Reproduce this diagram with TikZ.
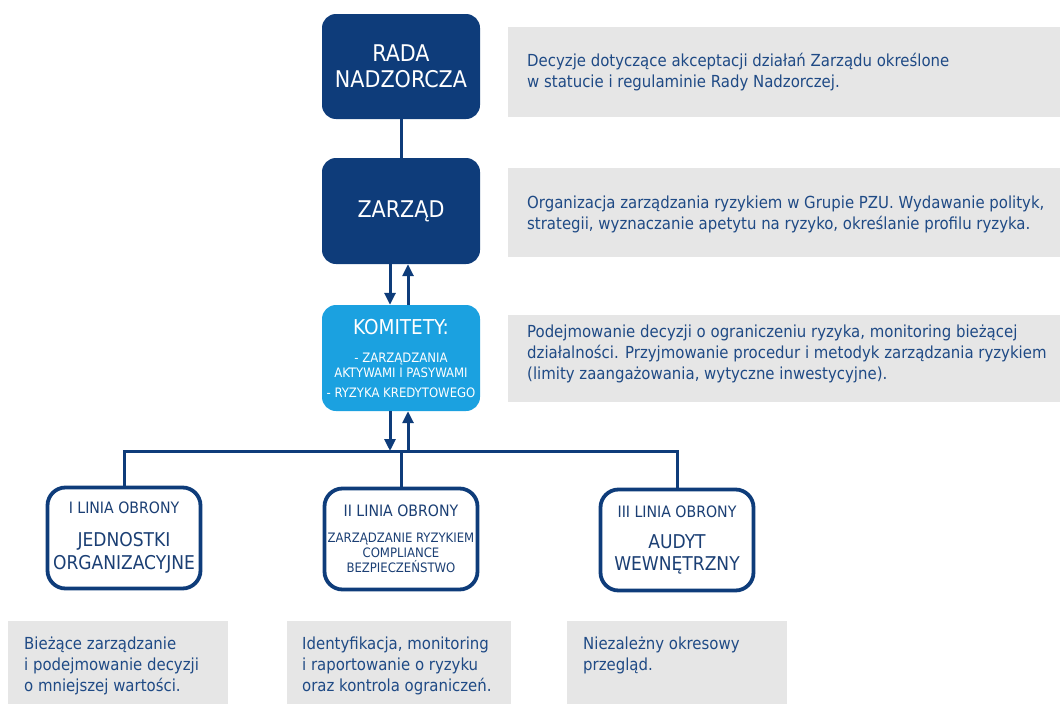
\documentclass[tikz,border=0pt]{standalone}
\usepackage{fontspec}
\setmainfont{DejaVu Sans Condensed}
\usetikzlibrary{arrows.meta}
\definecolor{navy}{HTML}{0E3C7A}
\definecolor{lightblue}{HTML}{1BA1E0}
\definecolor{txtblue}{HTML}{1F4A85}
\definecolor{boxtext}{HTML}{1B3F74}
\definecolor{grayfill}{HTML}{E6E6E6}
\newcommand{\fs}[2]{\fontsize{#1}{#2}\selectfont}
\begin{document}
\begin{tikzpicture}[x=1pt,y=-1pt,
  darkbox/.style={fill=navy, rounded corners=14pt, minimum width=158pt, minimum height=105pt, inner sep=0pt, text=white, align=center},
  lbox/.style={fill=lightblue, rounded corners=14pt, minimum width=158pt, minimum height=106pt, inner sep=0pt, text=white, align=center},
  linebox/.style={draw=navy, line width=3.8pt, fill=white, rounded corners=18pt, minimum width=153pt, minimum height=101pt, inner sep=0pt, align=center, text=boxtext},
  grayrect/.style={fill=grayfill, anchor=north west, inner sep=0pt},
  graytext/.style={anchor=west, inner sep=0pt, align=left, text=txtblue, font=\fs{16.6}{21}},
  conn/.style={draw=navy, line width=3pt},
  arr/.style={conn, -{Triangle[length=12pt,width=11pt]}}
]
\useasboundingbox (0,0) rectangle (1060,704);

% main boxes
\node[darkbox, font=\fs{23}{26}] (rada) at (401,66.5) {RADA\\NADZORCZA};
\node[darkbox, font=\fs{23}{26}, minimum height=106pt] (zarzad) at (401,211) {ZARZĄD};
\node[lbox, font=\fs{13}{15}] (kom) at (401,358)
  {\fs{20.5}{15}KOMITETY:\\[13pt]\fs{13}{15}- ZARZĄDZANIA\\AKTYWAMI I PASYWAMI\\[5pt]- RYZYKA KREDYTOWEGO};

\node[linebox, font=\fs{19}{23}] (l1) at (124,538)
  {\fs{15.7}{23}I LINIA OBRONY\\[10pt]\fs{19}{23}JEDNOSTKI\\ORGANIZACYJNE};
\node[linebox, font=\fs{13}{15}] (l2) at (401,539)
  {\fs{15.7}{15}II LINIA OBRONY\\[10.5pt]\fs{13}{15}ZARZĄDZANIE RYZYKIEM\\COMPLIANCE\\BEZPIECZEŃSTWO};
\node[linebox, font=\fs{19}{22}] (l3) at (677,540)
  {\fs{15.7}{22}III LINIA OBRONY\\[9pt]\fs{19}{22}AUDYT\\WEWNĘTRZNY};

% gray description boxes
\node[grayrect, minimum width=552pt, minimum height=90pt] (g1) at (508,27) {};
\node[graytext] (t1) at ([xshift=19pt]g1.west)
  {Decyzje dotyczące akceptacji działań Zarządu określone\\w statucie i regulaminie Rady Nadzorczej.};
\node[grayrect, minimum width=552pt, minimum height=89pt] (g2) at (508,168) {};
\node[graytext] (t2) at ([xshift=19pt,yshift=-2pt]g2.west)
  {Organizacja zarządzania ryzykiem w Grupie PZU. Wydawanie polityk,\\strategii, wyznaczanie apetytu na ryzyko, określanie profilu ryzyka.};
\node[grayrect, minimum width=552pt, minimum height=87pt] (g3) at (508,315) {};
\node[graytext] (t3) at ([xshift=19pt,yshift=5pt]g3.west)
  {Podejmowanie decyzji o ograniczeniu ryzyka, monitoring bieżącej\\działalności. Przyjmowanie procedur i metodyk zarządzania ryzykiem\\(limity zaangażowania, wytyczne inwestycyjne).};
\node[grayrect, minimum width=220pt, minimum height=83pt] (g4) at (8,621) {};
\node[graytext] (t4) at ([xshift=16pt,yshift=-3.5pt]g4.west)
  {Bieżące zarządzanie\\i podejmowanie decyzji\\o mniejszej wartości.};
\node[grayrect, minimum width=224pt, minimum height=83pt] (g5) at (287,621) {};
\node[graytext] (t5) at ([xshift=15pt,yshift=-3.5pt]g5.west)
  {Identyfikacja, monitoring\\i raportowanie o ryzyku\\oraz kontrola ograniczeń.};
\node[grayrect, minimum width=220pt, minimum height=83pt] (g6) at (567,621) {};
\node[graytext] (t6) at ([xshift=16pt,yshift=7pt]g6.west)
  {Niezależny okresowy\\przegląd.};

% connectors
\draw[conn] (rada.south) -- (zarzad.north);
\draw[arr] ([xshift=-11pt]zarzad.south) -- ([xshift=-11pt]kom.north);
\draw[arr] ([xshift=7pt]kom.north) -- ([xshift=7pt]zarzad.south);

\coordinate (bus) at (401,451);
\draw[conn] (l1.north) -- (l1.north |- bus) -- (l3.north |- bus) -- (l3.north);
\draw[conn] (bus) -- (l2.north);
\draw[arr] ([xshift=-11pt]kom.south) -- ([xshift=-11pt]kom.south |- bus);
\draw[arr] ([xshift=7pt]kom.south |- bus) -- ([xshift=7pt]kom.south);
\end{tikzpicture}
\end{document}
